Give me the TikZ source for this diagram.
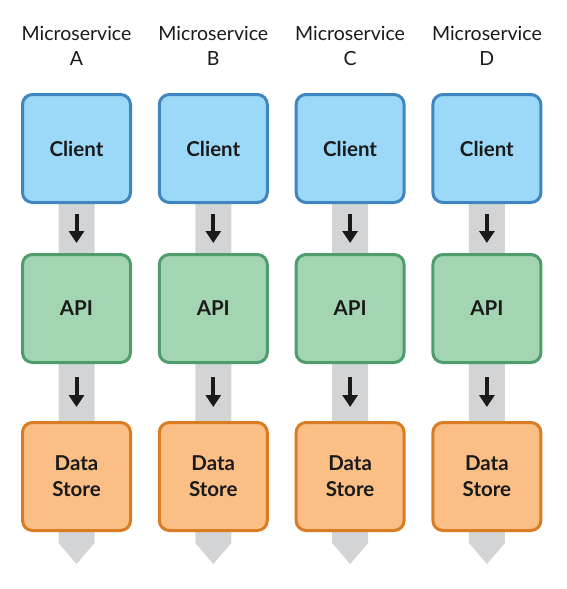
\documentclass[tikz,border=0pt]{standalone}
\usepackage{fontspec}
\setmainfont{Lato}
\usetikzlibrary{
	arrows.meta,
	calc,
	positioning,
}
\definecolor{clientfill}{HTML}{9CD8F7}
\definecolor{clientline}{HTML}{3F85BF}
\definecolor{apifill}{HTML}{A3D5B2}
\definecolor{apiline}{HTML}{4F9C6C}
\definecolor{storefill}{HTML}{FBBE85}
\definecolor{storeline}{HTML}{DA7C24}
\definecolor{bandgray}{HTML}{D3D4D6}
\definecolor{ink}{HTML}{1A1A1A}
\tikzset{
	box/.style={
		draw,
		rounded corners=10pt,
		line width=3pt,
		minimum size=108pt,
		inner sep=0pt,
		align=center,
		text=ink,
		font=\bfseries\fontsize{20.5}{26}\selectfont,
	},
	client/.style={box, fill=clientfill, draw=clientline},
	api/.style={box, fill=apifill, draw=apiline},
	store/.style={box, fill=storefill, draw=storeline},
	service label/.style={
		align=center,
		text=ink,
		font=\fontsize{19.5}{25}\selectfont,
	},
	flow/.style={
		-{Triangle[width=15pt,length=12pt]},
		line width=4pt,
		ink,
	},
	band/.style={fill=bandgray},
}

\begin{document}
\begin{tikzpicture}[x=1pt,y=-1pt]
\useasboundingbox (0,0) rectangle (566,589);

\foreach[count=\i] \n in {A,B,C,D}{
	\pgfmathsetmacro\x{76.5+136.8*(\i-1)}
	% grey channel behind the boxes
	\fill[band] (\x-18,200) -- (\x-18,543) -- (\x,564)
		-- (\x+18,543) -- (\x+18,200) -- cycle;

	\node[service label] (l\i) at (\x,46) {Microservice\\\n};
	\node[client] (c\i) at (\x,148.5) {Client};
	\node[api, below=49pt of c\i] (a\i) {API};
	\node[store, below=57pt of a\i] (d\i) {Data\\Store};

	\draw[flow, shorten <=10pt, shorten >=10pt] (c\i) -- (a\i);
	\draw[flow, shorten <=13pt, shorten >=14pt] (a\i) -- (d\i);
}
\end{tikzpicture}
\end{document}
